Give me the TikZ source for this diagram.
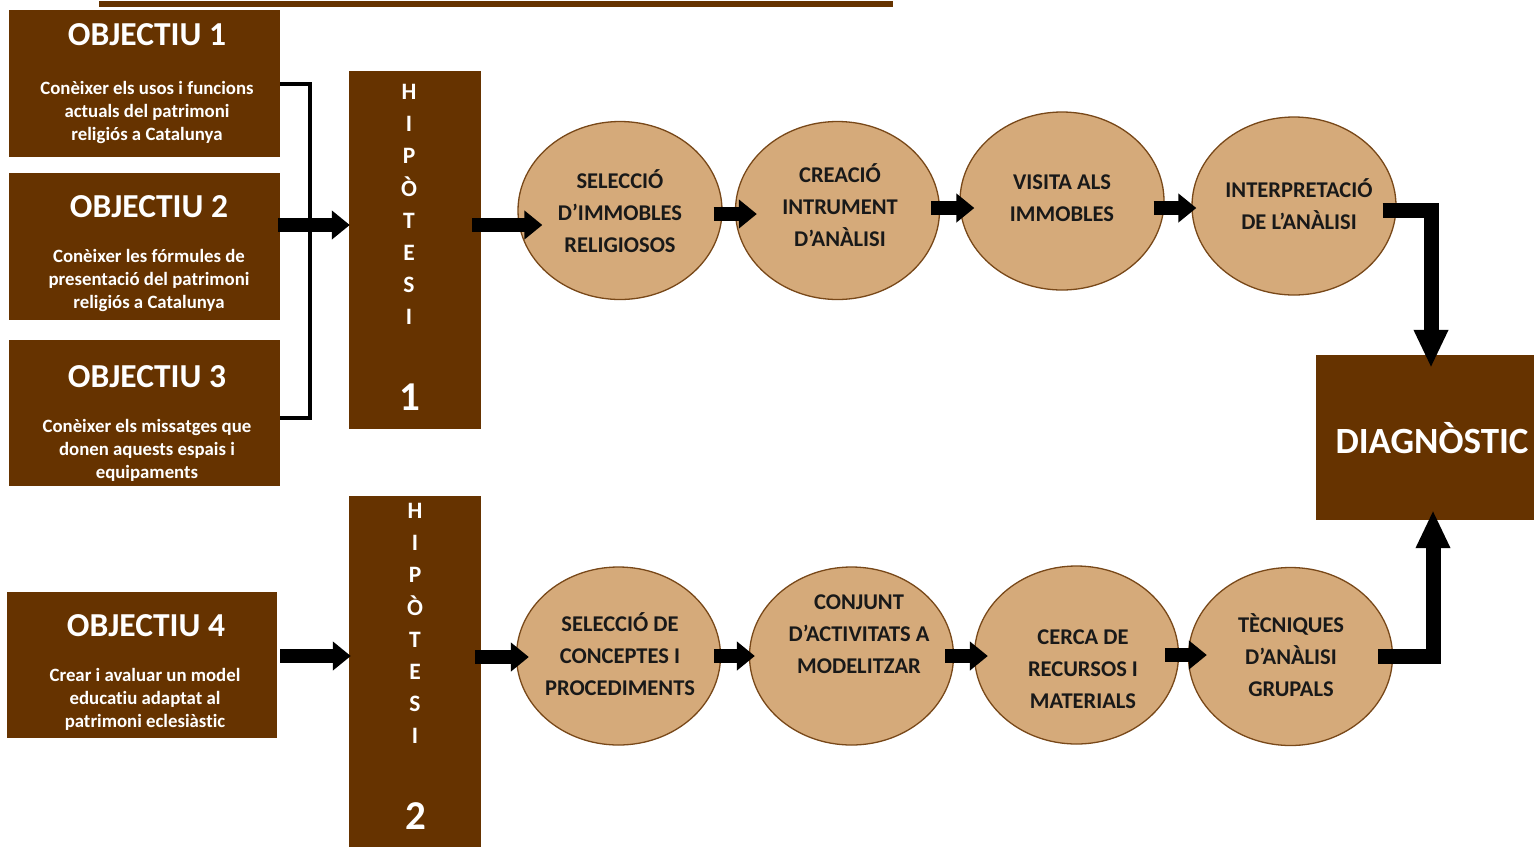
\documentclass[tikz,border=0pt]{standalone}
\usepackage{fontspec}
\setmainfont{Carlito}[Ligatures=NoCommon]
\usetikzlibrary{shapes.geometric,arrows.meta}
\definecolor{brownbox}{RGB}{102,51,0}
\definecolor{tanfill}{RGB}{213,170,122}
\definecolor{tanline}{RGB}{120,72,25}
\tikzset{
  objbox/.style={fill=brownbox,draw=none,minimum width=271pt,minimum height=147pt,inner sep=0pt},
  hypbox/.style={fill=brownbox,draw=none,minimum width=132pt,inner sep=0pt},
  stepell/.style={ellipse,fill=tanfill,draw=tanline,line width=1.3pt,minimum width=204pt,minimum height=178pt,inner sep=0pt},
  titletxt/.style={text=white,font=\bfseries\fontsize{33.5}{36}\selectfont,inner sep=0pt},
  bodytxt/.style={text=white,font=\bfseries\fontsize{18.8}{23}\selectfont,align=center,inner sep=0pt},
  elltxt/.style={text=black!90,font=\bfseries\fontsize{22.5}{32}\selectfont,align=center,inner sep=0pt},
  hyptxt/.style={text=white,font=\bfseries\fontsize{23.5}{32.1}\selectfont,align=center,inner sep=0pt},
  hypnum/.style={text=white,font=\bfseries\fontsize{41}{44}\selectfont,inner sep=0pt},
  fatarrow/.style={draw=black,line width=14pt,-{Triangle[width=28pt,length=18pt]}},
  bigarrow/.style={draw=black,line width=15pt,line join=miter,-{Triangle[width=32pt,length=38pt]}},
  bracketline/.style={draw=black,line width=4pt,line join=miter}
}
\begin{document}
\begin{tikzpicture}[x=1pt,y=-1pt]
\useasboundingbox (0,0) rectangle (1534,847);
% top bar
\fill[brownbox] (99,1) rectangle (893,7);
% objective boxes
\node[objbox] (o1) at (144.5,83.5) {};
\node[objbox] (o2) at (144.5,246.5) {};
\node[objbox,minimum height=146pt] (o3) at (144.5,413) {};
\node[objbox,minimum width=270pt,minimum height=146pt] (o4) at (142,665) {};
\node[titletxt] (t1) at (147,35) {OBJECTIU 1};
\node[bodytxt] (b1) at (147,112) {Conèixer els usos i funcions\\actuals del patrimoni\\religiós a Catalunya};
\node[titletxt] (t2) at (149,207) {OBJECTIU 2};
\node[bodytxt] (b2) at (149,280) {Conèixer les fórmules de\\presentació del patrimoni\\religiós a Catalunya};
\node[titletxt] (t3) at (147,377) {OBJECTIU 3};
\node[bodytxt] (b3) at (147,450) {Conèixer els missatges que\\donen aquests espais i\\equipaments};
\node[titletxt] (t4) at (146,626) {OBJECTIU 4};
\node[bodytxt] (b4) at (145,699) {Crear i avaluar un model\\educatiu adaptat al\\patrimoni eclesiàstic};
% hypothesis boxes
\node[hypbox,minimum height=358pt] (h1) at (415,250) {};
\node[hypbox,minimum height=351pt] (h2) at (415,671.5) {};
\node[hyptxt] (h1t) at (409,204.5) {H\\I\\P\\Ò\\T\\E\\S\\I};
\node[hypnum] (h1n) at (410,397) {1};
\node[hyptxt] (h2t) at (415,623.5) {H\\I\\P\\Ò\\T\\E\\S\\I};
\node[hypnum] (h2n) at (416,816) {2};
% diagnostic
\node[fill=brownbox,minimum width=218pt,minimum height=165pt,inner sep=0pt] (dg) at (1425,437.5) {};
\node[text=white,font=\bfseries\fontsize{37}{40}\selectfont,inner sep=0pt] (dgt) at (1432,438) {DIAGNÒSTIC};
% ellipses top
\node[stepell] (e1) at (620,210.5) {};
\node[stepell] (e2) at (837.5,210.5) {};
\node[stepell] (e3) at (1062,201) {};
\node[stepell] (e4) at (1294,206) {};
\node[elltxt] at (620,211) {SELECCIÓ\\D’IMMOBLES\\RELIGIOSOS};
\node[elltxt] at (840,205.5) {CREACIÓ\\INTRUMENT\\D’ANÀLISI};
\node[elltxt] at (1062,198.5) {VISITA ALS\\IMMOBLES};
\node[elltxt] at (1299,204.5) {INTERPRETACIÓ\\DE L’ANÀLISI};
% ellipses bottom
\node[stepell] (f1) at (618.5,656) {};
\node[stepell] (f2) at (851.5,656) {};
\node[stepell] (f3) at (1076.5,655) {};
\node[stepell] (f4) at (1290.5,656.5) {};
\node[elltxt] at (620,654.5) {SELECCIÓ DE\\CONCEPTES I\\PROCEDIMENTS};
\node[elltxt] at (859,634.5) {CONJUNT\\D’ACTIVITATS A\\MODELITZAR};
\node[elltxt] at (1083,669.5) {CERCA DE\\RECURSOS I\\MATERIALS};
\node[elltxt] at (1291,655.5) {TÈCNIQUES\\D’ANÀLISI\\GRUPALS};
% bracket
\draw[bracketline] (o1.east) -- ++(30,0) |- ([yshift=-5pt]o3.east);
% arrows
\draw[fatarrow] ([xshift=-2pt,yshift=21.5pt]o2.east) -- ([xshift=1pt,yshift=25pt]h1.west);
\draw[fatarrow] ([xshift=-9pt,yshift=25pt]h1.east) -- ([xshift=25pt,yshift=-14.5pt]e1.west);
\draw[fatarrow] ([xshift=-9pt,yshift=-3.5pt]e1.east) -- ([xshift=22pt,yshift=-3.5pt]e2.west);
\draw[fatarrow] ([xshift=-9pt,yshift=2.5pt]e2.east) -- ([xshift=15pt,yshift=-7pt]e3.west);
\draw[fatarrow] ([xshift=-11pt,yshift=-7pt]e3.east) -- ([xshift=5pt,yshift=-2pt]e4.west);
\draw[fatarrow] ([xshift=3pt,yshift=9pt]o4.east) -- ([xshift=2pt,yshift=15.5pt]h2.west);
\draw[fatarrow] ([xshift=-6pt,yshift=14.5pt]h2.east) -- ([xshift=13pt,yshift=-1pt]f1.west);
\draw[fatarrow] ([xshift=-7pt]f1.east) -- ([xshift=6pt]f2.west);
\draw[fatarrow] ([xshift=-9pt]f2.east) -- ([xshift=14pt,yshift=-1pt]f3.west);
\draw[fatarrow] ([xshift=-14pt]f3.east) -- ([xshift=19pt,yshift=1.5pt]f4.west);
\draw[bigarrow] ([xshift=-14pt,yshift=-4.5pt]e4.east) -| ([xshift=6pt,yshift=-13pt]dg.north);
\draw[bigarrow] ([xshift=-15pt,yshift=0.5pt]f4.east) -| ([xshift=8pt,yshift=10pt]dg.south);
\end{tikzpicture}
\end{document}
